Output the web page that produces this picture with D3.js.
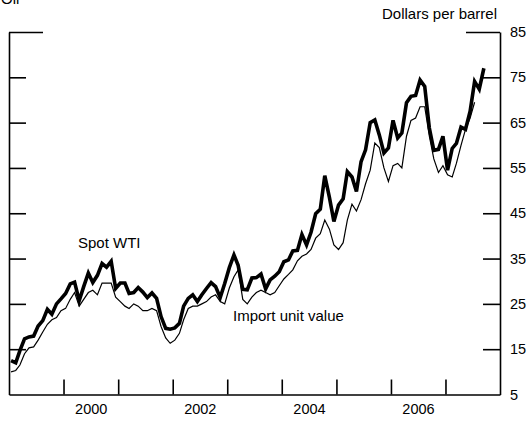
<!DOCTYPE html>
<html>
<head>
<meta charset="utf-8">
<script src="https://cdn.jsdelivr.net/npm/d3@7"></script>
<style>
  body { margin: 0; background: #fff; }
  svg text { font-family: "Liberation Sans", Arial, sans-serif; fill: #000; }
</style>
</head>
<body>
<div id="chart"></div>
<script>
// Monthly values, Jan 1999 onwards
const startYear = 1999;

// Spot WTI, dollars per barrel (Jan 1999 - Sep 2007)
const spotWTI = [
  12.5, 12.0, 14.7, 17.3, 17.7, 17.9, 20.1, 21.3, 23.8, 22.7, 25.0, 26.1,
  27.3, 29.4, 29.8, 25.7, 28.8, 31.8, 29.7, 31.3, 33.9, 33.1, 34.4, 28.4,
  29.6, 29.6, 27.3, 27.5, 28.6, 27.6, 26.4, 27.4, 26.2, 22.2, 19.6, 19.4,
  19.7, 20.7, 24.5, 26.2, 27.0, 25.5, 27.0, 28.4, 29.7, 28.8, 26.4, 29.5,
  33.0, 35.8, 33.5, 28.2, 28.1, 30.7, 30.8, 31.6, 28.3, 30.3, 31.1, 32.1,
  34.3, 34.7, 36.7, 36.8, 40.3, 38.0, 40.8, 44.9, 45.9, 53.3, 48.5, 43.2,
  46.8, 48.2, 54.2, 53.0, 49.8, 56.4, 59.0, 65.0, 65.6, 62.3, 58.3, 59.4,
  65.5, 61.6, 62.7, 69.4, 70.8, 71.0, 74.4, 73.0, 63.8, 58.9, 59.1, 62.0,
  54.5, 59.3, 60.4, 64.0, 63.5, 67.5, 74.1, 72.4, 77.0
];

// Import unit value, dollars per barrel (Jan 1999 - Jul 2007)
const importValue = [
  10.0, 10.3, 11.5, 14.0, 15.3, 15.5, 17.0, 18.8, 20.5, 21.5, 22.0, 23.5,
  24.0, 26.0, 27.5, 24.5, 26.0, 27.5, 28.0, 27.0, 29.6, 29.6, 29.6, 26.5,
  25.5, 24.5, 24.0, 25.0, 24.5, 23.5, 23.5, 24.0, 23.5, 20.0, 17.5, 16.3,
  17.0, 18.5, 21.5, 24.0, 24.5, 24.5, 25.0, 25.5, 26.5, 27.0, 25.5, 25.0,
  28.5, 31.0, 32.5, 26.0, 25.0, 26.5, 27.5, 28.0, 27.5, 27.0, 27.5, 29.0,
  30.5, 31.5, 32.5, 34.5, 35.5, 36.0, 37.0, 39.5, 40.5, 43.5, 41.5, 38.0,
  37.0, 38.5, 43.5, 47.0, 45.5, 48.0, 51.5, 54.5, 60.5, 59.5, 55.0, 52.0,
  55.5, 56.0, 55.0, 62.0, 65.5, 66.0, 68.5, 68.5, 62.0, 57.0, 54.0, 55.5,
  53.5, 53.0, 56.0, 60.0, 63.5, 66.0, 69.5
];

const yTicks = [5, 15, 25, 35, 45, 55, 65, 75, 85];
const yearTicks = [2000, 2001, 2002, 2003, 2004, 2005, 2006, 2007];
const yearLabels = [2000, 2002, 2004, 2006];

const width = 532, height = 422;
const margin = {left: 9, right: 32, top: 32, bottom: 27.5};

const svg = d3.select("#chart").append("svg")
  .attr("width", width)
  .attr("height", height);

const x = d3.scaleTime()
  .domain([new Date(1999, 0, 1), new Date(2008, 0, 1)])
  .range([margin.left, width - margin.right]);

const y = d3.scaleLinear()
  .domain([5, 85])
  .range([height - margin.bottom, margin.top]);

const toPoints = arr => arr.map((v, i) => ({
  date: new Date(startYear + Math.floor(i / 12), i % 12, 15),
  value: v
}));

const line = d3.line()
  .x(d => x(d.date))
  .y(d => y(d.value));

// left axis: ticks inside, no labels
const leftAxis = svg.append("g")
  .attr("transform", `translate(${margin.left},0)`)
  .call(d3.axisRight(y).tickValues(yTicks.slice(1)).tickSize(17).tickSizeOuter(0).tickFormat(""));

// right axis: ticks inside, labels outside
const rightAxis = svg.append("g")
  .attr("transform", `translate(${width - margin.right},0)`)
  .call(d3.axisRight(y).tickValues(yTicks).tickSizeInner(-17).tickSizeOuter(0).tickPadding(10));

// longer ticks at the top
leftAxis.selectAll(".tick").filter(d => d === 85).select("line").attr("x2", 34);
rightAxis.selectAll(".tick").filter(d => d === 85).select("line").attr("x2", -34);
rightAxis.selectAll(".tick").filter(d => d === 5).select("line").remove();

// bottom axis ticks pointing up
const bottomAxis = svg.append("g")
  .attr("transform", `translate(0,${height - margin.bottom})`)
  .call(d3.axisBottom(x)
    .tickValues(yearTicks.map(yr => new Date(yr, 0, 1)))
    .tickSizeInner(-15).tickSizeOuter(0).tickFormat(""));

// year labels centred on the year
svg.append("g")
  .attr("transform", `translate(0,${height - margin.bottom})`)
  .call(d3.axisBottom(x)
    .tickValues(yearLabels.map(yr => new Date(yr, 6, 1)))
    .tickSize(0).tickPadding(9).tickFormat(d3.timeFormat("%Y")))
  .call(g => g.select(".domain").remove());

svg.selectAll(".domain, .tick line")
  .attr("stroke", "#000")
  .attr("stroke-width", 1.6);

svg.selectAll(".tick text")
  .attr("font-family", "Liberation Sans, Arial, sans-serif")
  .attr("font-size", 14.5)
  .attr("fill", "#000");

// series
svg.append("path")
  .datum(toPoints(importValue))
  .attr("fill", "none")
  .attr("stroke", "#000")
  .attr("stroke-width", 1.2)
  .attr("stroke-linejoin", "miter")
  .attr("d", line);

svg.append("path")
  .datum(toPoints(spotWTI))
  .attr("fill", "none")
  .attr("stroke", "#000")
  .attr("stroke-width", 3.6)
  .attr("stroke-linejoin", "miter")
  .attr("d", line);

// text labels
svg.append("text").attr("x", 1).attr("y", 4).attr("font-size", 15).text("Oil");
svg.append("text").attr("x", 497).attr("y", 19).attr("font-size", 15)
  .attr("text-anchor", "end").text("Dollars per barrel");
svg.append("text").attr("x", 78).attr("y", 248).attr("font-size", 15).text("Spot WTI");
svg.append("text").attr("x", 233).attr("y", 321).attr("font-size", 15).text("Import unit value");
</script>
</body>
</html>
